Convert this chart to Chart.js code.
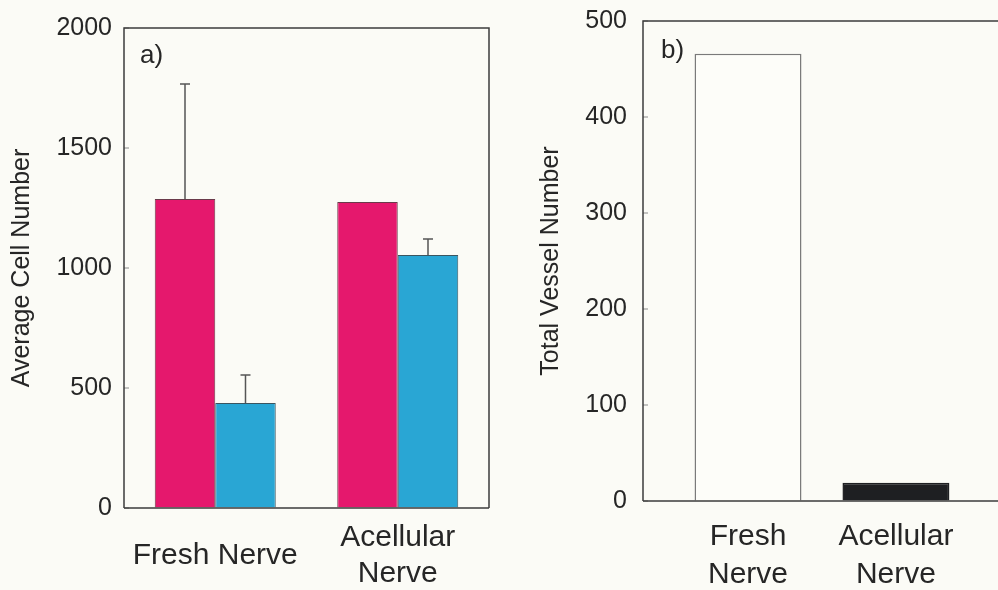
<!DOCTYPE html>
<html lang="en">
<head>
<meta charset="UTF-8">
<title>Cell and vessel numbers</title>
<script src="https://cdn.jsdelivr.net/npm/chart.js"></script>
<style>
  body { margin: 0; background: #fbfbf6; width: 998px; height: 590px; overflow: hidden; }
  .panel { position: absolute; top: 0; height: 590px; }
  #left { left: 0; width: 500px; }
  #right { left: 500px; width: 498px; }
</style>
</head>
<body>
<div class="panel" id="left"><canvas id="cells"></canvas></div>
<div class="panel" id="right"><canvas id="vessels"></canvas></div>

<script>
  // panel a) average cell number
  const cellCategories = ['Fresh Nerve', ['Acellular', 'Nerve']];
  const cellTicks = [0, 500, 1000, 1500, 2000];
  const pinkCells = [1287, 1275];
  const pinkErr = [480, 0];
  const blueCells = [437, 1054];
  const blueErr = [117, 67];

  // panel b) total vessel number
  const vesselCategories = [['Fresh', 'Nerve'], ['Acellular', 'Nerve']];
  const vesselTicks = [0, 100, 200, 300, 400, 500];
  const vesselCounts = [466, 19];

  const textColor = '#262626';
  Chart.defaults.font.family = '"Liberation Sans", Arial, sans-serif';
  Chart.defaults.color = textColor;

  // upper error bars, drawn through the y scale
  const errorBars = {
    id: 'errorBars',
    afterDatasetsDraw(chart) {
      const ctx = chart.ctx;
      const y = chart.scales.y;
      ctx.save();
      ctx.strokeStyle = '#555';
      ctx.lineWidth = 1.5;
      chart.data.datasets.forEach((ds, di) => {
        if (!ds.errors) return;
        chart.getDatasetMeta(di).data.forEach((bar, i) => {
          const e = ds.errors[i];
          if (!e) return;
          const top = y.getPixelForValue(ds.data[i] + e);
          ctx.beginPath();
          ctx.moveTo(bar.x, bar.y);
          ctx.lineTo(bar.x, top);
          ctx.moveTo(bar.x - 5, top);
          ctx.lineTo(bar.x + 5, top);
          ctx.stroke();
        });
      });
      ctx.restore();
    }
  };

  // box round the plot area, small inward ticks, panel letter
  const frame = {
    id: 'frame',
    afterDatasetsDraw(chart, args, opts) {
      const {ctx, chartArea: a} = chart;
      const y = chart.scales.y;
      ctx.save();
      ctx.strokeStyle = '#8a8a8a';
      ctx.lineWidth = 1;
      ctx.beginPath();
      y.ticks.forEach(t => {
        const py = y.getPixelForValue(t.value);
        ctx.moveTo(a.left, py);
        ctx.lineTo(a.left + 5, py);
      });
      ctx.stroke();
      ctx.strokeStyle = '#3d3d3d';
      ctx.lineWidth = 1.5;
      ctx.beginPath();
      ctx.moveTo(a.left, a.bottom);
      ctx.lineTo(a.left, a.top);
      ctx.lineTo(a.right, a.top);
      if (opts.right) ctx.lineTo(a.right, a.bottom);
      ctx.moveTo(a.left, a.bottom);
      ctx.lineTo(a.right, a.bottom);
      ctx.stroke();
      ctx.fillStyle = textColor;
      ctx.font = '26px "Liberation Sans", Arial, sans-serif';
      ctx.textBaseline = 'middle';
      ctx.fillText(opts.letter, a.left + opts.dx, a.top + opts.dy);
      ctx.restore();
    }
  };

  // hidden tick marks just to hold the labels off the axis
  const spacer = { display: true, drawOnChartArea: false, drawTicks: true, tickLength: 10, color: 'rgba(0,0,0,0)' };

  new Chart(document.getElementById('cells'), {
    type: 'bar',
    data: {
      labels: cellCategories,
      datasets: [
        {
          label: 'pink',
          data: pinkCells,
          errors: pinkErr,
          backgroundColor: '#e5186d',
          borderColor: '#6a3a4a',
          borderWidth: 1,
          categoryPercentage: 0.663,
          barPercentage: 1
        },
        {
          label: 'blue',
          data: blueCells,
          errors: blueErr,
          backgroundColor: '#29a6d4',
          borderColor: '#3a5560',
          borderWidth: 1,
          categoryPercentage: 0.663,
          barPercentage: 1
        }
      ]
    },
    options: {
      responsive: true,
      maintainAspectRatio: false,
      animation: false,
      layout: { padding: { top: 28, right: 11, bottom: 0, left: 0 } },
      plugins: {
        legend: { display: false },
        tooltip: { enabled: false },
        frame: { right: true, letter: 'a)', dx: 16, dy: 28 }
      },
      scales: {
        x: {
          grid: { display: false, drawTicks: false },
          border: { display: false },
          ticks: { font: { size: 30, lineHeight: 1.2 }, padding: 30, crossAlign: 'center', maxRotation: 0, autoSkip: false },
          afterFit: s => { s.height = 82; }
        },
        y: {
          min: cellTicks[0],
          max: cellTicks[cellTicks.length - 1],
          afterBuildTicks: s => { s.ticks = cellTicks.map(v => ({ value: v })); },
          grid: spacer,
          border: { display: false },
          ticks: { font: { size: 25 }, padding: 2, callback: v => String(v) },
          title: { display: true, text: 'Average Cell Number', font: { size: 25 }, padding: { top: 7, bottom: 4 } },
          afterFit: s => { s.width = 124; }
        }
      }
    },
    plugins: [errorBars, frame]
  });

  new Chart(document.getElementById('vessels'), {
    type: 'bar',
    data: {
      datasets: [
        {
          label: 'vessels',
          data: vesselCounts.map((v, i) => ({ x: i + 1, y: v })),
          backgroundColor: ['#fdfdf9', '#1e1f22'],
          borderColor: ['#7a7a7a', '#1e1f22'],
          borderWidth: 1.5,
          categoryPercentage: 0.723,
          barPercentage: 1
        }
      ]
    },
    options: {
      responsive: true,
      maintainAspectRatio: false,
      animation: false,
      layout: { padding: { top: 21, right: 0, bottom: 0, left: 0 } },
      plugins: {
        legend: { display: false },
        tooltip: { enabled: false },
        frame: { right: false, letter: 'b)', dx: 18, dy: 30 }
      },
      scales: {
        x: {
          type: 'linear',
          min: 0.29,
          max: 2.69,
          offset: false,
          grid: { display: false, drawTicks: false, offset: false },
          border: { display: false },
          afterBuildTicks: s => { s.ticks = vesselCategories.map((c, i) => ({ value: i + 1 })); },
          ticks: {
            callback: v => vesselCategories[v - 1],
            font: { size: 30, lineHeight: 1.27 },
            padding: 17,
            maxRotation: 0,
            autoSkip: false
          },
          afterFit: s => { s.height = 89; }
        },
        y: {
          min: vesselTicks[0],
          max: vesselTicks[vesselTicks.length - 1],
          afterBuildTicks: s => { s.ticks = vesselTicks.map(v => ({ value: v })); },
          grid: spacer,
          border: { display: false },
          ticks: { font: { size: 25 }, padding: 6, callback: v => String(v) },
          title: { display: true, text: 'Total Vessel Number', font: { size: 25 }, padding: { top: 36, bottom: 4 } },
          afterFit: s => { s.width = 143; }
        }
      }
    },
    plugins: [frame]
  });
</script>
</body>
</html>
